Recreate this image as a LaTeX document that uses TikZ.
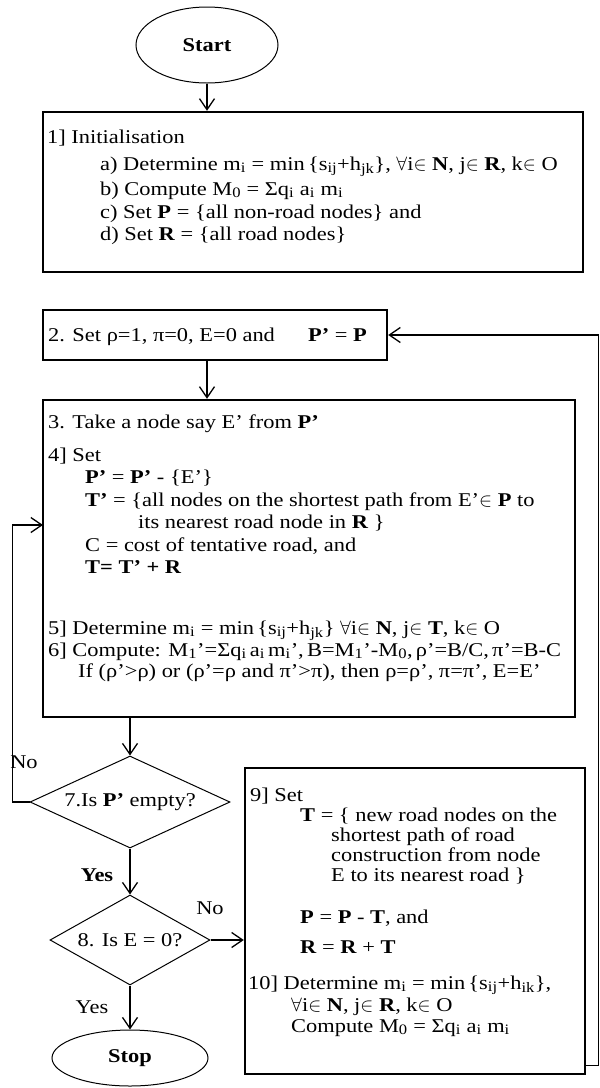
\documentclass[tikz,border=0pt]{standalone}
\usepackage{mathptmx}
\usepackage[no-math]{fontspec}
\setmainfont{Liberation Serif}[FakeStretch=1.15]
\usetikzlibrary{arrows.meta,positioning,shapes.geometric}

\newcommand{\sbs}[1]{\textsubscript{#1}}

\begin{document}
\begin{tikzpicture}[x=1pt, y=-1pt, >={Straight Barb[length=11pt,width=15pt]},
  every node/.style={font=\fontsize{19.5}{22}\selectfont},
  term/.style={draw, ellipse, line width=1pt},
  stepbox/.style={draw, line width=2.4pt, inner sep=0pt},
  test/.style={draw, diamond, line width=1pt, inner sep=0pt},
  txt/.style={anchor=base west, inner sep=0pt},
  flow/.style={->, line width=1.3pt}]

  \useasboundingbox (0,0) rectangle (600,1088);

  % start / stop
  \node[term, minimum width=142pt, minimum height=76pt] (start) at (207,45) {\textbf{Start}};
  \node[term, minimum width=156pt, minimum height=56pt] (stop) at (130,1058) {\textbf{Stop}};

  % step 1: initialisation
  \node[stepbox, minimum width=540pt, minimum height=160pt] (init) at (313,192) {};
  \node[txt] (s1) at (47,143) {1] Initialisation};
  \node[txt] (s1a) at (100,170) {a) Determine m\sbs{i} = min\,\{s\sbs{ij}+h\sbs{jk}\}, $\forall$i$\in$ \textbf{N}, j$\in$ \textbf{R}, k$\in$ O};
  \node[txt] (s1b) at (100,195) {b) Compute M\sbs{0} = Σq\sbs{i} a\sbs{i} m\sbs{i}};
  \node[txt] (s1c) at (100,218) {c) Set \textbf{P} = \{all non-road nodes\} and};
  \node[txt] (s1d) at (100,240) {d) Set \textbf{R} = \{all road nodes\}};

  % step 2
  \node[stepbox, minimum width=344pt, minimum height=50pt] (setp) at (215,335) {};
  \node[txt] (s2) at (48,341) {2. Set ρ=1, π=0, E=0 and};
  \node[txt] (s2b) at (308,341) {\textbf{P'} = \textbf{P}};

  % steps 3 to 6
  \node[stepbox, minimum width=532pt, minimum height=317pt] (take) at (309,558.5) {};
  \node[txt] (s3) at (48,428) {3. Take a node say E' from \textbf{P'}};
  \node[txt] (s4) at (48,461) {4] Set};
  \node[txt] (s4a) at (85,483) {\textbf{P'} = \textbf{P'} - \{E'\}};
  \node[txt] (s4b) at (85,506) {\textbf{T'} = \{all nodes on the shortest path from E'$\in$ \textbf{P} to};
  \node[txt] (s4c) at (138,528) {its nearest road node in \textbf{R} \}};
  \node[txt] (s4d) at (85,551) {C = cost of tentative road, and};
  \node[txt] (s4e) at (85,573) {\textbf{T= T' + R}};
  \node[txt] (s5) at (48,634) {5] Determine m\sbs{i} = min\,\{s\sbs{ij}+h\sbs{jk}\} $\forall$i$\in$ \textbf{N}, j$\in$ \textbf{T}, k$\in$ O};
  \node[txt] (s6) at (48,656) {6] Compute: M\sbs{1}'=Σq\sbs{i}\,a\sbs{i}\,m\sbs{i}',\,B=M\sbs{1}'-M\sbs{0},\,ρ'=B/C,\,π'=B-C};
  \node[txt] (s6b) at (78,677) {If (ρ'>ρ) or (ρ'=ρ and π'>π), then ρ=ρ', π=π', E=E'};

  % tests
  \node[test, minimum width=200pt, minimum height=92pt, aspect=2.2] (empty) at (130,802) {7.Is \textbf{P'} empty?};
  \node[test, minimum width=160pt, minimum height=90pt, aspect=1.8] (zero) at (130,940) {8. Is E = 0?};

  % steps 9 and 10
  \node[stepbox, minimum width=340pt, minimum height=306pt] (update) at (415,921) {};
  \node[txt] (s9) at (250,801) {9] Set};
  \node[txt] (s9a) at (300,821) {\textbf{T} = \{ new road nodes on the};
  \node[txt] (s9b) at (331,841) {shortest path of road};
  \node[txt] (s9c) at (331,861) {construction from node};
  \node[txt] (s9d) at (331,881) {E to its nearest road \}};
  \node[txt] (s9e) at (300,923) {\textbf{P} = \textbf{P} - \textbf{T}, and};
  \node[txt] (s9f) at (300,953) {\textbf{R} = \textbf{R} + \textbf{T}};
  \node[txt] (s10) at (248,989) {10] Determine m\sbs{i} = min\,\{s\sbs{ij}+h\sbs{ik}\},};
  \node[txt] (s10a) at (291,1011) {$\forall$i$\in$ \textbf{N}, j$\in$ \textbf{R}, k$\in$ O};
  \node[txt] (s10b) at (291,1032) {Compute M\sbs{0} = Σq\sbs{i} a\sbs{i} m\sbs{i}};

  % branch labels
  \node (no7) at (24,762) {No};
  \node (yes7) at (97,875) {\textbf{Yes}};
  \node (no8) at (210,908) {No};
  \node (yes8) at (92,1007) {Yes};

  \coordinate (back) at (43,525);

  \draw[flow] (start.south) -- (start.south |- init.north);
  \draw[flow] (start.south |- setp.south) -- (start.south |- take.north);
  \draw[flow] (take.south -| empty.north) -- (empty.north);
  \draw[flow] (empty.south) -- (zero.north);
  \draw[flow] (zero.south) -- (stop.north);
  \draw[flow] (zero.east) -- (zero.east -| update.west);
  \draw[flow] (empty.west) -- ++(-17,0) |- (back);
  \draw[flow] ([yshift=10pt]update.south east) -- ++(12,0) |- (setp.east);
\end{tikzpicture}
\end{document}
